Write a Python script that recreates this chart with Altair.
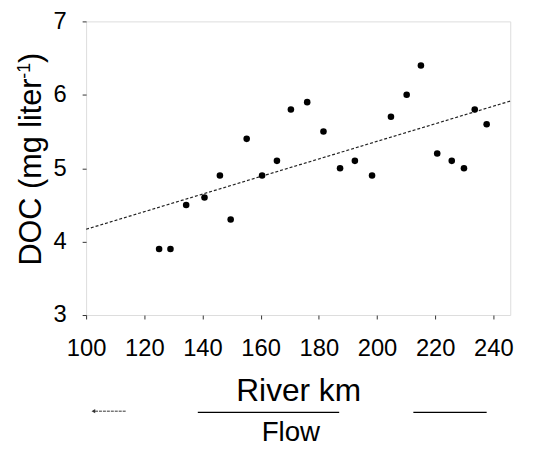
import altair as alt
import pandas as pd

# --- data ---
river_km = [125.1, 129.0, 134.4, 140.7, 146.0, 149.7, 155.2, 160.5, 165.6, 170.4,
            176.0, 181.6, 187.3, 192.4, 198.3, 204.8, 210.2, 215.1, 220.7, 225.7,
            229.9, 233.6, 237.7]
doc = [3.9, 3.9, 4.5, 4.6, 4.9, 4.3, 5.4, 4.9, 5.1, 5.8,
       5.9, 5.5, 5.0, 5.1, 4.9, 5.7, 6.0, 6.4, 5.2, 5.1,
       5.0, 5.8, 5.6]
x_ticks = [100, 120, 140, 160, 180, 200, 220, 240]
y_ticks = [3, 4, 5, 6, 7]
x_domain = [100, 245.8]
y_domain = [3, 7]

# y-axis title pieces (main text, superscript, closing bracket), placed left of the axis
ytitle_text = ["DOC (mg liter", "-1", ")"]
ytitle_x = [84.4, 80.7, 84.4]
ytitle_y = [3.673, 6.219, 6.434]
ytitle_size = [31, 18, 31]

# flow annotation below the axis (in data units)
flow_seg_x = [138.4, 212.5]
flow_seg_x2 = [187.0, 237.7]
flow_seg_y = [1.673, 1.673]
arrow_x = [113.6]
arrow_x2 = [102.5]
arrow_y = [1.69]
flow_label = ["Flow"]
flow_label_x = [170.4]
flow_label_y = [1.28]

FONT = "Liberation Sans"

pts = pd.DataFrame({"km": river_km, "doc": doc})
segs = pd.DataFrame({"x": flow_seg_x, "x2": flow_seg_x2, "y": flow_seg_y})
arr = pd.DataFrame({"x": arrow_x, "x2": arrow_x2, "y": arrow_y})
lab = pd.DataFrame({"t": flow_label, "x": flow_label_x, "y": flow_label_y})
ytl = pd.DataFrame({"t": ytitle_text, "x": ytitle_x, "y": ytitle_y, "s": ytitle_size})

xs = alt.Scale(domain=x_domain, nice=False, zero=False)
ys = alt.Scale(domain=y_domain, nice=False, zero=False)

x_axis = alt.Axis(values=x_ticks, format="d", grid=False, domain=False, tickSize=4, tickColor="#333",
                  labelFontSize=24, labelFont=FONT, labelColor="black", labelPadding=18,
                  labelFlush=False, labelOverlap=False,
                  title="River km", titleFont=FONT, titleFontSize=32, titleFontWeight="normal",
                  titleColor="black", titleY=86, titleBaseline="alphabetic")
y_axis = alt.Axis(values=y_ticks, format="d", grid=False, domain=False, tickSize=4, tickColor="#333",
                  labelFontSize=24, labelFont=FONT, labelColor="black", labelPadding=16,
                  labelFlush=False, labelOverlap=False, title=None)

base = alt.Chart(pts)

points = base.mark_circle(size=44, color="black", opacity=1).encode(
    x=alt.X("km:Q", scale=xs, axis=x_axis),
    y=alt.Y("doc:Q", scale=ys, axis=y_axis),
)

fit = base.transform_regression("km", "doc", extent=x_domain).mark_line(
    color="#222", strokeWidth=1.2, strokeDash=[3, 2]
).encode(x=alt.X("km:Q", scale=xs), y=alt.Y("doc:Q", scale=ys))

ytitle = alt.Chart(ytl).mark_text(font=FONT, color="black", angle=270, align="left",
                                  baseline="alphabetic").encode(
    x=alt.X("x:Q", scale=xs), y=alt.Y("y:Q", scale=ys), text="t:N",
    size=alt.Size("s:Q", scale=None, legend=None),
)

seg_layer = alt.Chart(segs).mark_rule(color="black", strokeWidth=1.3).encode(
    x=alt.X("x:Q", scale=xs), x2="x2:Q", y=alt.Y("y:Q", scale=ys)
)
arrow_line = alt.Chart(arr).mark_rule(color="#333", strokeWidth=1, strokeDash=[3, 1]).encode(
    x=alt.X("x:Q", scale=xs), x2="x2:Q", y=alt.Y("y:Q", scale=ys)
)
arrow_head = alt.Chart(arr).mark_point(shape="triangle-left", filled=True, color="#333",
                                       size=18, opacity=1).encode(
    x=alt.X("x2:Q", scale=xs), y=alt.Y("y:Q", scale=ys)
)
flow_text = alt.Chart(lab).mark_text(font=FONT, fontSize=28, color="black",
                                     baseline="alphabetic", align="center").encode(
    x=alt.X("x:Q", scale=xs), y=alt.Y("y:Q", scale=ys), text="t:N"
)

chart = alt.layer(fit, points, ytitle, seg_layer, arrow_line, arrow_head, flow_text).properties(
    width=429, height=297,
    padding={"left": 79, "top": 11, "right": 20, "bottom": 136},
    autosize="none",
).configure_view(stroke="#444", strokeWidth=1.4).configure(background="white")

chart.save("out.html", embed_options={"renderer": "svg", "actions": False})
